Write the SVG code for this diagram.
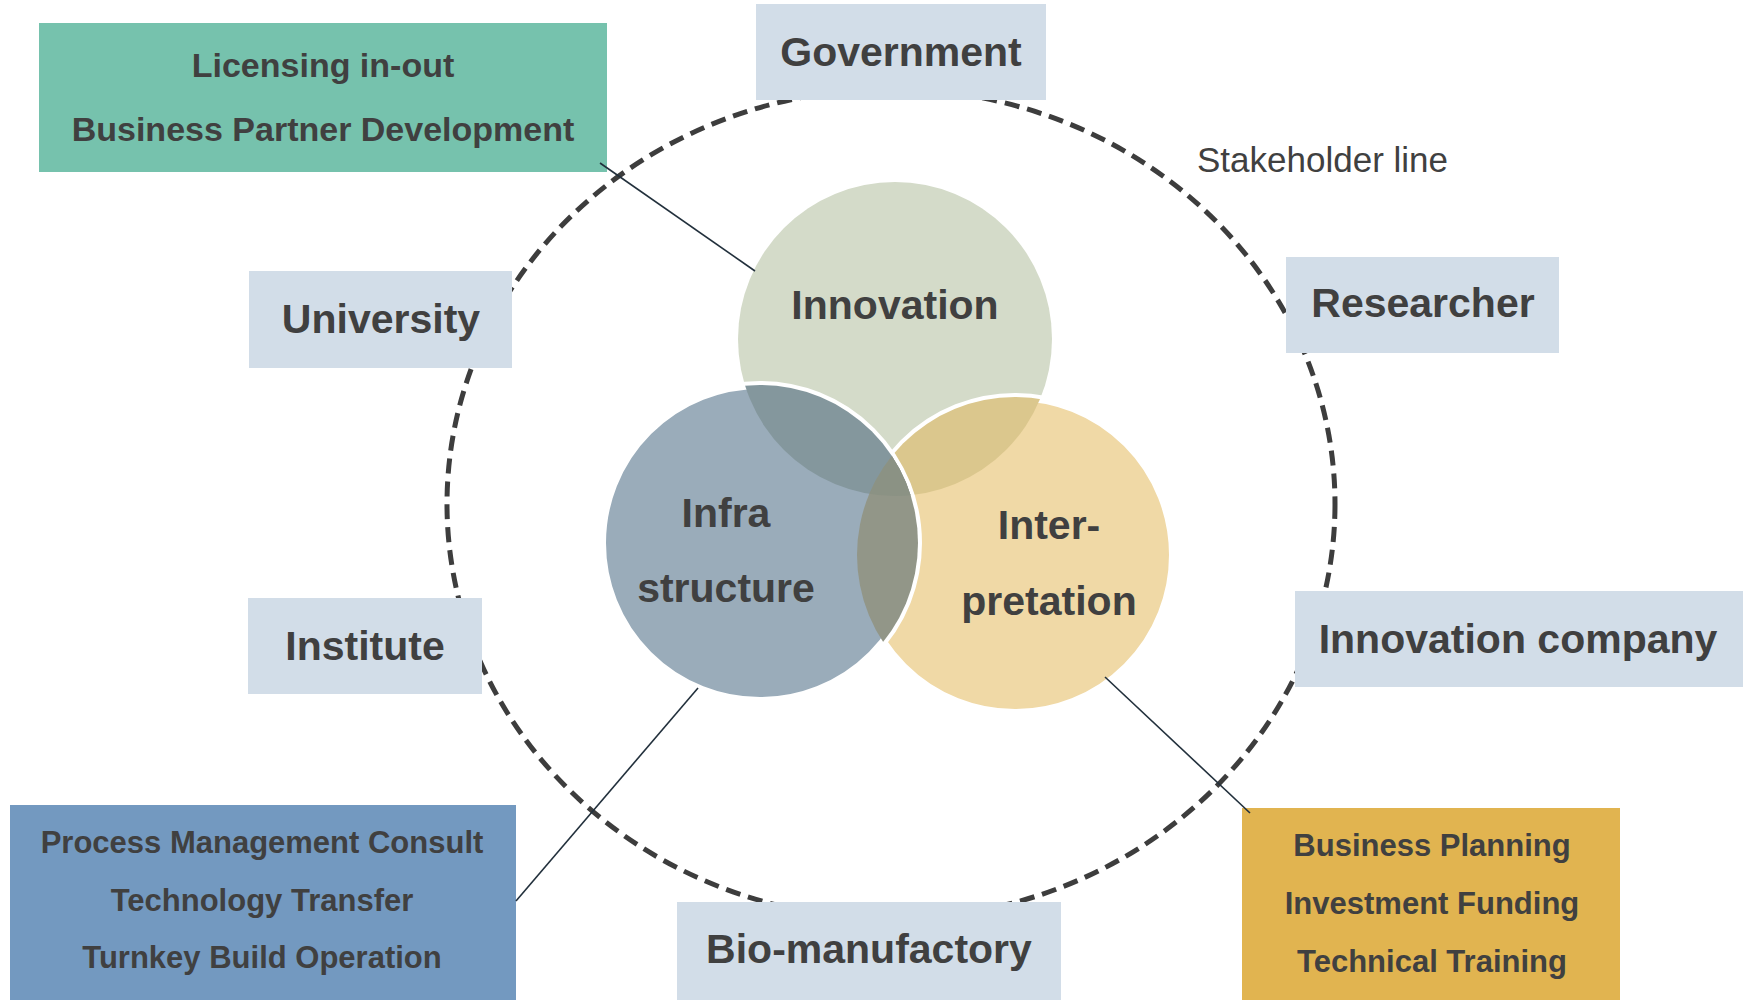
<svg xmlns="http://www.w3.org/2000/svg" width="1750" height="1000" viewBox="0 0 1750 1000">
<style>
  .lbl { font-family: "Liberation Sans", Arial, sans-serif; font-weight: bold; fill: #404040; text-anchor: middle; }
  .big { font-size: 41px; }
  .mid { font-size: 34px; }
  .sml { font-size: 31px; }
  .stake { fill: #d2dde8; }
  .conn { stroke: #22303c; stroke-width: 1.6; fill: none; }
  .note { font-family: "Liberation Sans", Arial, sans-serif; font-size: 35px; fill: #404040; }
</style>
<defs>
  <clipPath id="cInfra"><circle cx="760" cy="543" r="158"/></clipPath>
  <clipPath id="cInterp"><circle cx="1015" cy="555" r="158"/></clipPath>
</defs>
<rect width="1750" height="1000" fill="#ffffff"/>

<g id="stakeholder-line">
  <ellipse cx="891" cy="504" rx="444" ry="415" fill="none" stroke="#3d3d3d" stroke-width="5" stroke-dasharray="15 8"/>
  <text class="note" x="1197" y="172">Stakeholder line</text>
</g>

<g id="venn">
  <g id="innovation">
    <circle cx="895" cy="339" r="157" fill="#d4dbc9"/>
  </g>
  <g id="interpretation">
    <circle cx="1015" cy="555" r="158" fill="#f0d9a6" stroke="#ffffff" stroke-width="8"/>
  </g>
  <circle cx="895" cy="339" r="157" fill="#dbc78d" clip-path="url(#cInterp)"/>
  <g id="infrastructure">
    <circle cx="760" cy="543" r="158" fill="#9aacba" stroke="#ffffff" stroke-width="8"/>
  </g>
  <circle cx="895" cy="339" r="157" fill="#84979d" clip-path="url(#cInfra)"/>
  <circle cx="1015" cy="555" r="158" fill="#929688" clip-path="url(#cInfra)"/>
  <g clip-path="url(#cInfra)">
    <circle cx="895" cy="339" r="157" fill="#8b9284" clip-path="url(#cInterp)"/>
  </g>
  <text class="lbl big" x="895" y="319">Innovation</text>
  <text class="lbl big" x="726" y="527">Infra</text>
  <text class="lbl big" x="726" y="602">structure</text>
  <text class="lbl big" x="1049" y="539">Inter-</text>
  <text class="lbl big" x="1049" y="615">pretation</text>
</g>

<g id="government">
  <rect class="stake" x="756" y="4" width="290" height="96"/>
  <text class="lbl big" x="901" y="66">Government</text>
</g>
<g id="researcher">
  <rect class="stake" x="1286" y="257" width="273" height="96"/>
  <text class="lbl big" x="1423" y="317">Researcher</text>
</g>
<g id="university">
  <rect class="stake" x="249" y="271" width="263" height="97"/>
  <text class="lbl big" x="381" y="333">University</text>
</g>
<g id="institute">
  <rect class="stake" x="248" y="598" width="234" height="96"/>
  <text class="lbl big" x="365" y="660">Institute</text>
</g>
<g id="innovation-company">
  <rect class="stake" x="1295" y="591" width="448" height="96"/>
  <text class="lbl big" x="1518" y="653">Innovation company</text>
</g>
<g id="bio-manufactory">
  <rect class="stake" x="677" y="902" width="384" height="98"/>
  <text class="lbl big" x="869" y="963">Bio-manufactory</text>
</g>

<g id="licensing-box">
  <rect x="39" y="23" width="568" height="149" fill="#76c2ad"/>
  <text class="lbl mid" x="323" y="77">Licensing in-out</text>
  <text class="lbl mid" x="323" y="141">Business Partner Development</text>
</g>
<g id="process-box">
  <rect x="10" y="805" width="506" height="195" fill="#7399c0"/>
  <text class="lbl sml" x="262" y="853">Process Management Consult</text>
  <text class="lbl sml" x="262" y="911">Technology Transfer</text>
  <text class="lbl sml" x="262" y="968">Turnkey Build Operation</text>
</g>
<g id="business-box">
  <rect x="1242" y="808" width="378" height="192" fill="#e1b450"/>
  <text class="lbl sml" x="1432" y="856">Business Planning</text>
  <text class="lbl sml" x="1432" y="914">Investment Funding</text>
  <text class="lbl sml" x="1432" y="972">Technical Training</text>
</g>

<g id="connectors">
  <line class="conn" x1="600" y1="163" x2="755" y2="271"/>
  <line class="conn" x1="698" y1="688" x2="516" y2="901"/>
  <line class="conn" x1="1105" y1="677" x2="1250" y2="813"/>
</g>
</svg>
